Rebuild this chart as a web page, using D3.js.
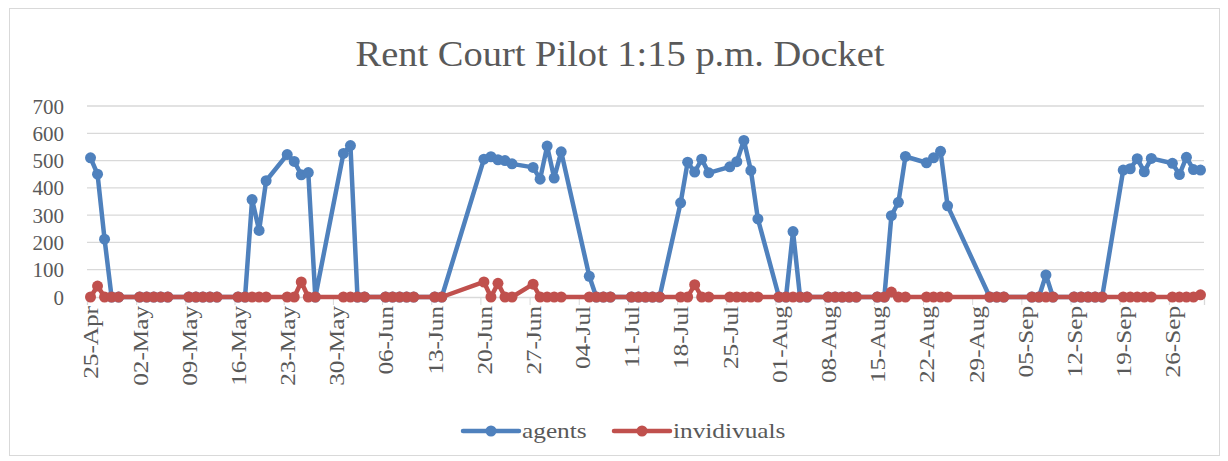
<!DOCTYPE html>
<html>
<head>
<meta charset="utf-8">
<script src="https://cdn.jsdelivr.net/npm/d3@7"></script>
<style>
  body { margin: 0; background: #fff; }
  svg text { font-family: "Liberation Serif", "DejaVu Serif", serif; fill: #595959; }
</style>
</head>
<body>
<div id="chart"></div>
<script>
/* ---------- data (2016 dockets) ---------- */
var dates = [
  "04-25","04-26","04-27","04-28","04-29",
  "05-02","05-03","05-04","05-05","05-06",
  "05-09","05-10","05-11","05-12","05-13",
  "05-16","05-17","05-18","05-19","05-20",
  "05-23","05-24","05-25","05-26","05-27",
  "05-31","06-01","06-02","06-03",
  "06-06","06-07","06-08","06-09","06-10",
  "06-13","06-14",
  "06-20","06-21","06-22","06-23","06-24",
  "06-27","06-28","06-29","06-30","07-01",
  "07-05","07-06","07-07","07-08",
  "07-11","07-12","07-13","07-14","07-15",
  "07-18","07-19","07-20","07-21","07-22",
  "07-25","07-26","07-27","07-28","07-29",
  "08-01","08-02","08-03","08-04","08-05",
  "08-08","08-09","08-10","08-11","08-12",
  "08-15","08-16","08-17","08-18","08-19",
  "08-22","08-23","08-24","08-25",
  "08-31","09-01","09-02",
  "09-06","09-07","09-08","09-09",
  "09-12","09-13","09-14","09-15","09-16",
  "09-19","09-20","09-21","09-22","09-23",
  "09-26","09-27","09-28","09-29","09-30"
];

var agents = [
  510, 450, 212, 0, 0,
  0, 0, 0, 0, 0,
  0, 0, 0, 0, 0,
  0, 0, 357, 244, 426,
  522, 497, 448, 456, 0,
  526, 555, 0, 0,
  0, 0, 0, 0, 0,
  0, 0,
  505, 514, 503, 500, 488,
  475, 432, 553, 436, 532,
  76, 0, 0, 0,
  0, 0, 0, 0, 0,
  345, 494, 458, 505, 455,
  477, 496, 574, 464, 286,
  0, 0, 240, 0, 0,
  0, 0, 0, 0, 0,
  0, 0, 298, 347, 515,
  492, 510, 534, 334,
  0, 0, 0,
  0, 0, 81, 0,
  0, 0, 0, 0, 0,
  465, 470, 507, 459, 508,
  490, 449, 512, 467, 465
];

var individuals = [
  0, 40, 0, 0, 0,
  0, 0, 0, 0, 0,
  0, 0, 0, 0, 0,
  0, 0, 0, 0, 0,
  0, 0, 55, 0, 0,
  0, 0, 0, 0,
  0, 0, 0, 0, 0,
  0, 0,
  55, 0, 50, 0, 0,
  47, 0, 0, 0, 0,
  0, 0, 0, 0,
  0, 0, 0, 0, 0,
  0, 0, 45, 0, 0,
  0, 0, 0, 0, 0,
  0, 0, 0, 0, 0,
  0, 0, 0, 0, 0,
  0, 0, 18, 0, 0,
  0, 0, 0, 0,
  0, 0, 0,
  0, 0, 0, 0,
  0, 0, 0, 0, 0,
  0, 0, 0, 0, 0,
  0, 0, 0, 0, 8
];

var tickLabels = ["25-Apr","02-May","09-May","16-May","23-May","30-May","06-Jun","13-Jun",
  "20-Jun","27-Jun","04-Jul","11-Jul","18-Jul","25-Jul","01-Aug","08-Aug","15-Aug",
  "22-Aug","29-Aug","05-Sep","12-Sep","19-Sep","26-Sep"];
var yTicks = [0, 100, 200, 300, 400, 500, 600, 700];

var seriesNames = ["agents", "invidivuals"];
var seriesColors = ["#4f81bd", "#c0504d"];

/* ---------- setup ---------- */
var W = 1228, H = 461;
var plot = {left: 87, right: 1204, top: 106, bottom: 297};
var parseDay = d3.timeParse("%Y-%m-%d");
var parseTick = d3.timeParse("%d-%b-%Y");

// the original face (Cambria) is wider than Times, stretch text a bit
function widen(sel, k) {
  sel.each(function() {
    var len = this.getComputedTextLength();
    d3.select(this).attr("textLength", len * k).attr("lengthAdjust", "spacingAndGlyphs");
  });
}

var svg = d3.select("#chart").append("svg").attr("width", W).attr("height", H);

svg.append("rect")
  .attr("x", 9.5).attr("y", 8.5).attr("width", 1210).attr("height", 447)
  .attr("fill", "#fff").attr("stroke", "#d9d9d9");

var x = d3.scaleTime()
  .domain([parseDay("2016-04-25"), parseDay("2016-10-01")])
  .range([plot.left, plot.right]);
var y = d3.scaleLinear().domain([0, 700]).range([plot.bottom, plot.top]);

// points sit in the middle of each day slot
function xMid(dstr) { return x(d3.timeHour.offset(parseDay("2016-" + dstr), 12)); }

svg.append("text")
  .attr("x", 620).attr("y", 66)
  .attr("text-anchor", "middle")
  .style("font-size", "36px")
  .attr("textLength", 529).attr("lengthAdjust", "spacingAndGlyphs")
  .text("Rent Court Pilot 1:15 p.m. Docket");

// gridlines
svg.append("g").selectAll("line")
  .data(yTicks.slice(1))
  .enter().append("line")
  .attr("x1", plot.left).attr("x2", plot.right)
  .attr("y1", d => y(d)).attr("y2", d => y(d))
  .attr("stroke", "#d9d9d9").attr("stroke-width", 1.3);

// y axis labels
var yAxis = svg.append("g")
  .attr("transform", "translate(" + plot.left + ",0)")
  .call(d3.axisLeft(y).tickValues(yTicks).tickSize(0).tickPadding(23));
yAxis.select(".domain").remove();
yAxis.selectAll("text").style("font-size", "20px").attr("dy", "0.35em");
widen(yAxis.selectAll("text"), 1.05);

// x axis
var tickDates = tickLabels.map(t => parseTick(t + "-2016"));
var xAxis = svg.append("g")
  .attr("transform", "translate(0," + plot.bottom + ")")
  .call(d3.axisBottom(x).tickValues(tickDates).tickSize(8)
    .tickFormat((d, i) => tickLabels[i]));
xAxis.select(".domain").attr("stroke", "#d9d9d9").attr("stroke-width", 1.3);
xAxis.selectAll(".tick line").attr("stroke", "#d9d9d9");
xAxis.selectAll(".tick text")
  .style("font-size", "21px")
  .style("text-anchor", "end")
  .attr("transform", "rotate(-90)")
  .attr("x", -9).attr("y", 3.5).attr("dy", "0.35em");
widen(xAxis.selectAll(".tick text"), 1.2);

// series
var series = [agents, individuals];
var line = d3.line().x((d, i) => xMid(dates[i])).y(d => y(d));

series.forEach(function(vals, s) {
  var g = svg.append("g");
  g.append("path")
    .datum(vals)
    .attr("d", line)
    .attr("fill", "none")
    .attr("stroke", seriesColors[s])
    .attr("stroke-width", 4.5)
    .attr("stroke-linejoin", "round");
  g.selectAll("circle")
    .data(vals)
    .enter().append("circle")
    .attr("cx", (d, i) => xMid(dates[i]))
    .attr("cy", d => y(d))
    .attr("r", 5.5)
    .attr("fill", seriesColors[s]);
});

// legend
var legendX = [463, 614];
var legend = svg.append("g");
seriesNames.forEach(function(name, i) {
  var lg = legend.append("g").attr("transform", "translate(" + legendX[i] + ",431)");
  lg.append("line").attr("x1", 0).attr("x2", 56).attr("stroke", seriesColors[i])
    .attr("stroke-width", 4.5).attr("stroke-linecap", "round");
  lg.append("circle").attr("cx", 28).attr("r", 5.5).attr("fill", seriesColors[i]);
  var t = lg.append("text").attr("x", 59).attr("dy", "0.32em").style("font-size", "22px").text(name);
  widen(t, 1.15);
});
</script>
</body>
</html>
